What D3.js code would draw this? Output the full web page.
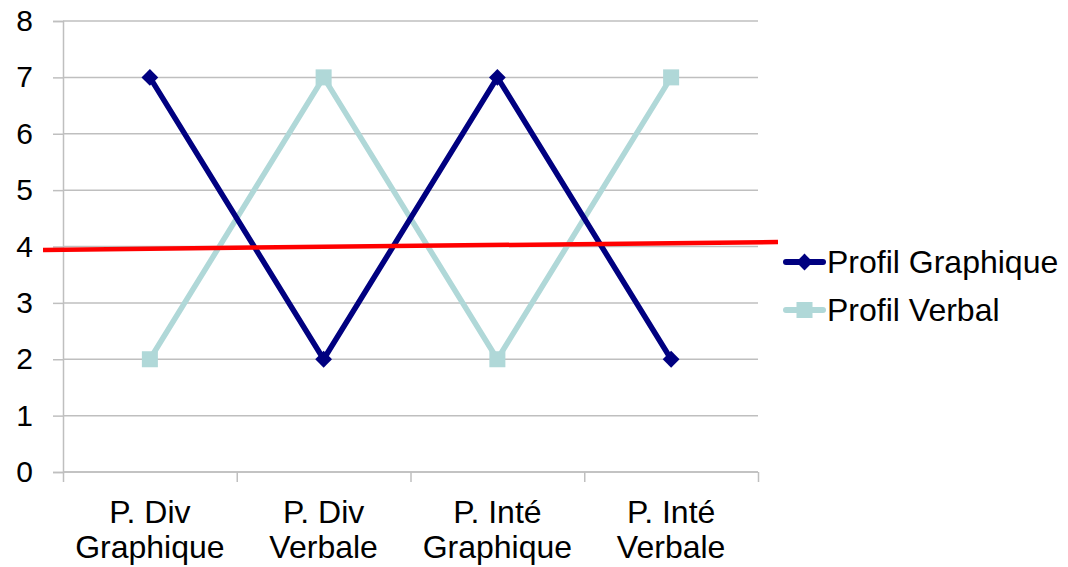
<!DOCTYPE html>
<html>
<head>
<meta charset="utf-8">
<script src="https://cdn.jsdelivr.net/npm/d3@7"></script>
<style>
  html, body { margin: 0; padding: 0; background: #ffffff; }
  svg { display: block; font-family: "Liberation Sans", Arial, sans-serif; }
</style>
</head>
<body>
<div id="chart"></div>
<script>
const WIDTH = 1068;
const HEIGHT = 567;
const MARGIN = { top: 21, right: 310, bottom: 95, left: 63 };

const categories = [["P. Div", "Graphique"], ["P. Div", "Verbale"], ["P. Inté", "Graphique"], ["P. Inté", "Verbale"]];
const profilGraphique = [7, 2, 7, 2];
const profilVerbal = [2, 7, 2, 7];
const yTicks = [0, 1, 2, 3, 4, 5, 6, 7, 8];
// red reference line, in category-index units on x
const refLineX = [-0.615, 3.615];
const refLineY = [3.94, 4.08];

const COLORS = { graphique: "#000080", verbal: "#b0d8d8", ref: "#ff0000", grid: "#bfbfbf", text: "#000000" };

const svg = d3.select("#chart").append("svg").attr("width", WIDTH).attr("height", HEIGHT);

const x = d3.scaleLinear().domain([-0.5, categories.length - 0.5]).range([MARGIN.left, WIDTH - MARGIN.right]);
const y = d3.scaleLinear().domain([0, 8]).range([HEIGHT - MARGIN.bottom, MARGIN.top]);

// horizontal grid + y labels
const yAxis = svg
  .append("g")
  .attr("transform", `translate(${MARGIN.left},0)`)
  .call(
    d3
      .axisLeft(y)
      .tickValues(yTicks)
      .tickSize(10)
      .tickPadding(20)
      .tickFormat(d3.format("d"))
  );
yAxis.select(".domain").attr("stroke", COLORS.grid).attr("stroke-width", 1.5);
yAxis.selectAll(".tick line").attr("stroke", COLORS.grid).attr("stroke-width", 1.5);
yAxis.selectAll(".tick text").attr("font-size", 30).attr("fill", COLORS.text);

svg
  .append("g")
  .selectAll("line")
  .data(yTicks)
  .join("line")
  .attr("x1", MARGIN.left)
  .attr("x2", WIDTH - MARGIN.right)
  .attr("y1", (d) => y(d))
  .attr("y2", (d) => y(d))
  .attr("stroke", COLORS.grid)
  .attr("stroke-width", 1.5);

// x axis with ticks on category boundaries
const boundaries = d3.range(categories.length + 1).map((i) => i - 0.5);
const xAxis = svg
  .append("g")
  .attr("transform", `translate(0,${y(0)})`)
  .call(d3.axisBottom(x).tickValues(boundaries).tickSize(10).tickFormat(""));
xAxis.select(".domain").attr("stroke", COLORS.grid).attr("stroke-width", 1.5).attr("d", `M${x(-0.5)},0H${x(categories.length - 0.5)}`);
xAxis.selectAll(".tick line").attr("stroke", COLORS.grid).attr("stroke-width", 1.5);

svg
  .append("g")
  .selectAll("text")
  .data(categories)
  .join("text")
  .attr("x", (d, i) => x(i))
  .attr("y", y(0) + 51)
  .attr("text-anchor", "middle")
  .attr("font-size", 32)
  .attr("fill", COLORS.text)
  .each(function (d) {
    const t = d3.select(this);
    d.forEach((line, j) => {
      t.append("tspan")
        .attr("x", t.attr("x"))
        .attr("dy", j === 0 ? 0 : 35)
        .text(line);
    });
  });

const line = d3
  .line()
  .x((d, i) => x(i))
  .y((d) => y(d));

const diamond = d3.symbol().type(d3.symbolDiamond2).size(180);

function drawSeries(values, color, markerType) {
  svg
    .append("path")
    .datum(values)
    .attr("fill", "none")
    .attr("stroke", color)
    .attr("stroke-width", 5.5)
    .attr("stroke-linejoin", "round")
    .attr("d", line);

  const g = svg.append("g");
  if (markerType === "diamond") {
    g.selectAll("path")
      .data(values)
      .join("path")
      .attr("transform", (d, i) => `translate(${x(i)},${y(d)})`)
      .attr("d", diamond)
      .attr("fill", color);
  } else {
    g.selectAll("rect")
      .data(values)
      .join("rect")
      .attr("x", (d, i) => x(i) - 8)
      .attr("y", (d) => y(d) - 8)
      .attr("width", 16)
      .attr("height", 16)
      .attr("fill", color);
  }
}

drawSeries(profilVerbal, COLORS.verbal, "square");
drawSeries(profilGraphique, COLORS.graphique, "diamond");

// red reference line
svg
  .append("line")
  .attr("x1", x(refLineX[0]))
  .attr("y1", y(refLineY[0]))
  .attr("x2", x(refLineX[1]))
  .attr("y2", y(refLineY[1]))
  .attr("stroke", COLORS.ref)
  .attr("stroke-width", 4.5);

// legend
const legendItems = [
  { label: "Profil Graphique", color: COLORS.graphique, marker: "diamond" },
  { label: "Profil Verbal", color: COLORS.verbal, marker: "square" },
];
const legend = svg
  .append("g")
  .selectAll("g")
  .data(legendItems)
  .join("g")
  .attr("transform", (d, i) => `translate(786,${262 + i * 48})`);

legend
  .append("line")
  .attr("x1", 0)
  .attr("x2", 37)
  .attr("stroke", (d) => d.color)
  .attr("stroke-width", 6)
  .attr("stroke-linecap", "round");

legend.each(function (d) {
  const g = d3.select(this);
  if (d.marker === "diamond") {
    g.append("path").attr("transform", "translate(18.5,0)").attr("d", diamond).attr("fill", d.color);
  } else {
    g.append("rect").attr("x", 10.5).attr("y", -8).attr("width", 16).attr("height", 16).attr("fill", d.color);
  }
});

legend
  .append("text")
  .attr("x", 41)
  .attr("dy", "0.35em")
  .attr("font-size", 32)
  .attr("fill", COLORS.text)
  .text((d) => d.label);
</script>
</body>
</html>
